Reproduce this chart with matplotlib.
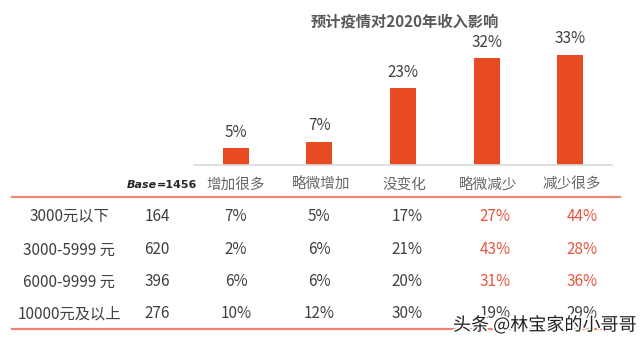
import matplotlib
matplotlib.use('Agg')
import matplotlib.pyplot as plt
import matplotlib.patheffects as pe

plt.rcParams['font.family'] = ['Noto Sans CJK SC', 'DejaVu Sans']

title = '预计疫情对2020年收入影响'
categories = ['增加很多', '略微增加', '没变化', '略微减少', '减少很多']
overall = [5, 7, 23, 32, 33]

groups = ['3000元以下', '3000-5999 元', '6000-9999 元', '10000元及以上']
bases = [164, 620, 396, 276]
base_total = 1456
shares = [
    [7, 5, 17, 27, 44],
    [2, 6, 21, 43, 28],
    [6, 6, 20, 31, 36],
    [10, 12, 30, 19, 29],
]
highlight = [
    [False, False, False, True, True],
    [False, False, False, True, True],
    [False, False, False, True, True],
    [False, False, False, False, False],
]
watermark = '头条 @林宝家的小哥哥'

W, H = 640, 345
BAR = '#E84A22'
LINE = '#EE8570'
TXT = '#404040'
HEAD = '#666666'


def fx(x):
    return x / W


def fy(y):
    return 1 - y / H


fig = plt.figure(figsize=(6.4, 3.45), dpi=100)

# bar chart part
ax = fig.add_axes([fx(194), fy(165), fx(418), 133.3 / H])
xs = range(len(categories))
ax.bar(xs, overall, width=0.31, color=BAR)
for x, v in zip(xs, overall):
    ax.text(x, v + 2.3, f'{v}%', ha='center', va='bottom', fontsize=11, color=TXT)
ax.set_xlim(-0.5, 4.5)
ax.set_ylim(0, 40)
for s in ['top', 'right', 'left']:
    ax.spines[s].set_visible(False)
ax.spines['bottom'].set_color('#d9d9d9')
ax.spines['bottom'].set_linewidth(1.2)
ax.set_xticks([])
ax.set_yticks([])
ax.patch.set_alpha(0)

fig.text(fx(405), fy(21), title, ha='center', va='center', fontsize=11,
         fontweight='bold', color='#595959')

# table part
head_x = [236, 321, 404, 488, 572]
col_x = [236, 319, 407, 495, 582]
row_y = [216, 250, 282, 314]
lab_x = 69
base_x = 157

fig.text(fx(157), fy(185), 'Base', ha='right', va='center', fontsize=8,
         fontweight='bold', fontstyle='italic', family='DejaVu Sans', color='#262626')
fig.text(fx(157), fy(185), f'={base_total}', ha='left', va='center', fontsize=8,
         fontweight='bold', family='DejaVu Sans', color='#262626')
for x, c in zip(head_x, categories):
    fig.text(fx(x), fy(185), c, ha='center', va='center', fontsize=10.5, color=HEAD)

fig.add_artist(plt.Line2D([fx(12), fx(620)], [fy(197), fy(197)], color=LINE, lw=1.6))
fig.add_artist(plt.Line2D([fx(12), fx(612)], [fy(329), fy(329)], color=LINE, lw=1.6))

for i, y in enumerate(row_y):
    fig.text(fx(lab_x), fy(y), groups[i], ha='center', va='center', fontsize=11, color=TXT)
    fig.text(fx(base_x), fy(y), str(bases[i]), ha='center', va='center', fontsize=11, color=TXT)
    for j, x in enumerate(col_x):
        c = '#E8553F' if highlight[i][j] else TXT
        fig.text(fx(x), fy(y), f'{shares[i][j]}%', ha='center', va='center',
                 fontsize=11, color=c)

fig.text(fx(636), fy(325), watermark, ha='right', va='center', fontsize=13,
         color='#222222', path_effects=[pe.withStroke(linewidth=2.5, foreground='white')])

fig.savefig('out.png', dpi=100)
